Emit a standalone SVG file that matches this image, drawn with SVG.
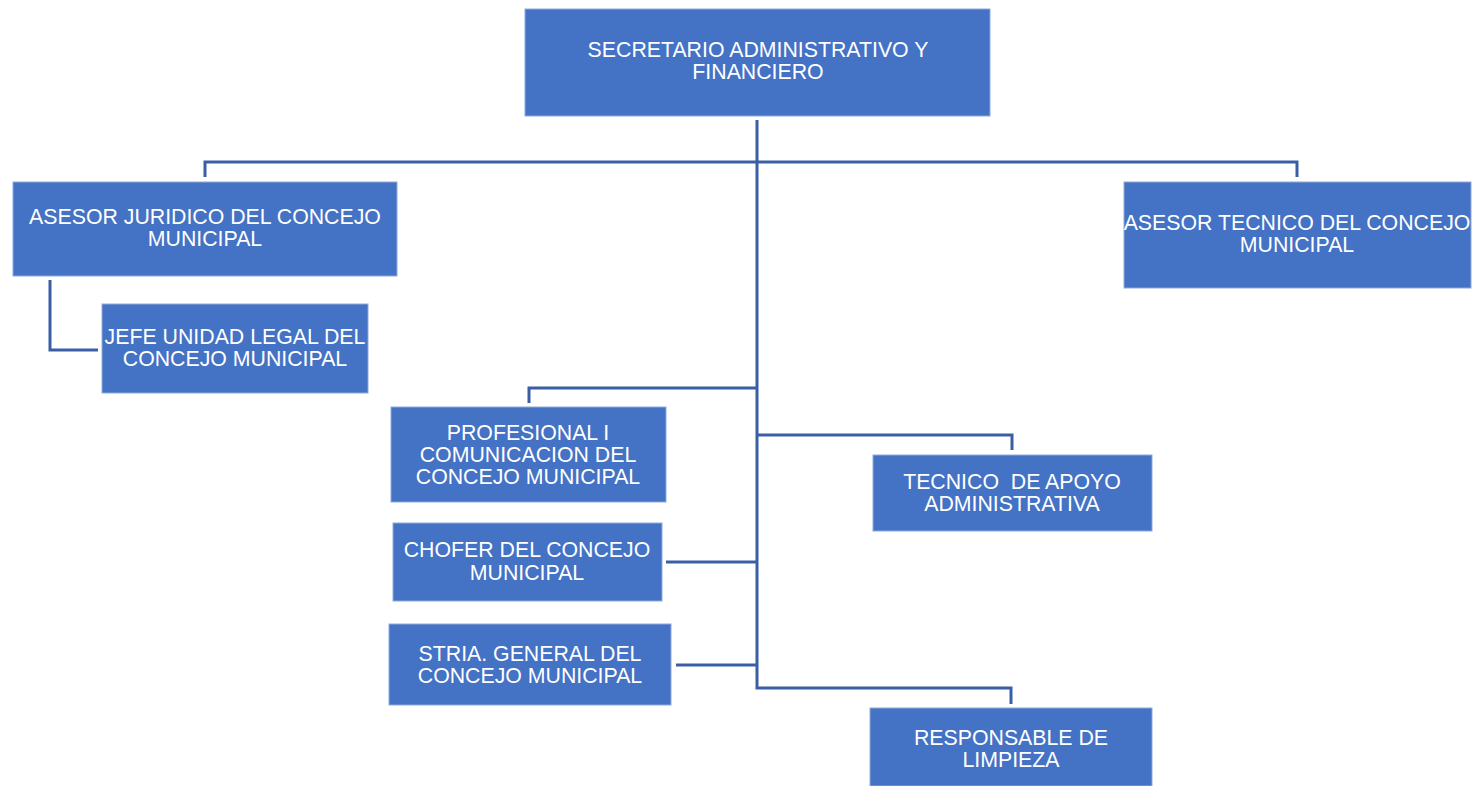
<svg xmlns="http://www.w3.org/2000/svg" width="1476" height="786" viewBox="0 0 1476 786">
<style>
.box{fill:#4472C4;stroke:#8faadc;stroke-width:1}
.lbl{font-family:"Liberation Sans",Arial,sans-serif;font-size:21.3px;fill:#ffffff;text-anchor:middle}
.con{fill:none;stroke:#3a5ea5;stroke-width:3;stroke-linejoin:miter}
</style>
<defs>
<clipPath id="clipTec"><rect x="1124" y="182" width="347" height="106"/></clipPath>
</defs>
<rect width="1476" height="786" fill="#ffffff"/>
<g id="connectors">
<path class="con" d="M757,120 V688 H1011 V704"/>
<path class="con" d="M205,177 V162 H1297 V177"/>
<path class="con" d="M50,280 V350 H98"/>
<path class="con" d="M757,388 H529 V403"/>
<path class="con" d="M757,435 H1012 V450"/>
<path class="con" d="M666,562 H757"/>
<path class="con" d="M676,665 H757"/>
</g>
<g id="secretario">
<rect class="box" x="525" y="9" width="465" height="107"/>
<text class="lbl" x="758" y="57">SECRETARIO ADMINISTRATIVO Y</text>
<text class="lbl" x="758" y="79">FINANCIERO</text>
</g>
<g id="asesor-juridico">
<rect class="box" x="13" y="182" width="384" height="94"/>
<text class="lbl" x="205" y="224">ASESOR JURIDICO DEL CONCEJO</text>
<text class="lbl" x="205" y="246">MUNICIPAL</text>
</g>
<g id="jefe-unidad-legal">
<rect class="box" x="102" y="304" width="266" height="89"/>
<text class="lbl" x="235" y="344">JEFE UNIDAD LEGAL DEL</text>
<text class="lbl" x="235" y="366">CONCEJO MUNICIPAL</text>
</g>
<g id="asesor-tecnico">
<rect class="box" x="1124" y="182" width="347" height="106"/>
<g clip-path="url(#clipTec)">
<text class="lbl" x="1297" y="230">ASESOR TECNICO DEL CONCEJO</text>
<text class="lbl" x="1297" y="252">MUNICIPAL</text>
</g>
</g>
<g id="profesional">
<rect class="box" x="391" y="407" width="275" height="95"/>
<text class="lbl" x="528" y="440">PROFESIONAL I</text>
<text class="lbl" x="528" y="462">COMUNICACION DEL</text>
<text class="lbl" x="528" y="484">CONCEJO MUNICIPAL</text>
</g>
<g id="chofer">
<rect class="box" x="393" y="523" width="269" height="78"/>
<text class="lbl" x="527" y="557">CHOFER DEL CONCEJO</text>
<text class="lbl" x="527" y="580">MUNICIPAL</text>
</g>
<g id="stria-general">
<rect class="box" x="389" y="624" width="282" height="81"/>
<text class="lbl" x="530" y="661">STRIA. GENERAL DEL</text>
<text class="lbl" x="530" y="683">CONCEJO MUNICIPAL</text>
</g>
<g id="tecnico-apoyo">
<rect class="box" x="873" y="455" width="279" height="76"/>
<text class="lbl" x="1012" y="489" xml:space="preserve">TECNICO  DE APOYO</text>
<text class="lbl" x="1012" y="511">ADMINISTRATIVA</text>
</g>
<g id="responsable-limpieza">
<rect class="box" x="870" y="708" width="282" height="78"/>
<text class="lbl" x="1011" y="745">RESPONSABLE DE</text>
<text class="lbl" x="1011" y="767">LIMPIEZA</text>
</g>
</svg>
